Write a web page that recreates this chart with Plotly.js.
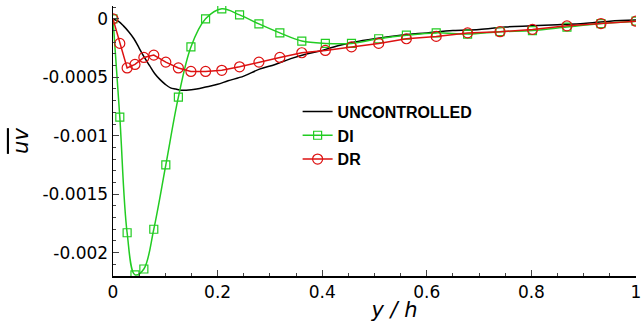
<!DOCTYPE html>
<html>
<head>
<meta charset="utf-8">
<script src="https://cdn.plot.ly/plotly-3.0.1.min.js"></script>
<style>html,body{margin:0;padding:0;background:#fff;}#chart{width:641px;height:322px;}</style>
</head>
<body>
<div id="chart"></div>
<script>
// Uncontrolled (dense line, no markers)
const uncX = [0, 0.01, 0.02, 0.03, 0.04, 0.05, 0.06, 0.07, 0.08, 0.09, 0.10, 0.11, 0.12, 0.13, 0.14, 0.16, 0.18, 0.20, 0.22, 0.25, 0.28, 0.31, 0.34, 0.37, 0.40, 0.43, 0.46, 0.50, 0.55, 0.60, 0.65, 0.70, 0.75, 0.80, 0.85, 0.90, 0.95, 1.0];
const uncV = [0, -0.00002, -0.00006, -0.00011, -0.00017, -0.00025, -0.00033, -0.00040, -0.00047, -0.00052, -0.00056, -0.00059, -0.00060, -0.00061, -0.00061, -0.00060, -0.00058, -0.00056, -0.00053, -0.00049, -0.00043, -0.00039, -0.00034, -0.00030, -0.00027, -0.00023, -0.00020, -0.00017, -0.00014, -0.00012, -0.00010, -0.00009, -0.00007, -0.00006, -0.00005, -0.00004, -0.00002, -0.00001];

// Station locations shared by DI and DR
const ptX = [0, 0.013, 0.027, 0.042, 0.059, 0.078, 0.101, 0.125, 0.149, 0.177, 0.208, 0.242, 0.279, 0.319, 0.361, 0.406, 0.456, 0.508, 0.561, 0.618, 0.678, 0.740, 0.802, 0.868, 0.933, 1.0];
const diV = [0, -0.00084, -0.00183, -0.00219, -0.00214, -0.00180, -0.00125, -0.00067, -0.00024, 0.0, 0.000086, 0.000034, -0.000043, -0.00012, -0.00019, -0.00021, -0.00021, -0.00017, -0.00014, -0.00012, -0.00013, -0.00011, -0.00010, -0.00007, -0.00004, -0.00002];
const drV = [0, -0.00021, -0.00042, -0.00039, -0.00033, -0.00031, -0.00037, -0.00042, -0.00045, -0.00045, -0.00044, -0.00041, -0.00037, -0.00033, -0.00029, -0.00027, -0.00024, -0.00021, -0.00017, -0.00015, -0.00012, -0.00011, -0.00009, -0.00006, -0.00004, -0.00002];

const yTickVals = [0, -0.0005, -0.001, -0.0015, -0.002];
const yTickText = ["0", "-0.0005", "-0.001", "-0.0015", "-0.002"];
const xTickVals = [0, 0.2, 0.4, 0.6, 0.8, 1];
const xTickText = ["0", "0.2", "0.4", "0.6", "0.8", "1"];

const traces = [
  {x: uncX, y: uncV, name: "UNCONTROLLED", mode: "lines", line: {color: "#000000", width: 1.5, shape: "spline"}},
  {x: ptX, y: diV, name: "DI", mode: "lines+markers", line: {color: "#22cc22", width: 1.5, shape: "spline"},
   marker: {symbol: "square-open", size: 8, color: "#22cc22", line: {width: 1.2}}},
  {x: ptX, y: drV, name: "DR", mode: "lines+markers", line: {color: "#dd1111", width: 1.5},
   marker: {symbol: "circle-open", size: 10, color: "#dd1111", line: {width: 1.2}}}
];

const tickFont = {family: "DejaVu Sans", size: 17, color: "#000"};
const layout = {
  width: 641, height: 322,
  margin: {l: 113, r: 5, t: 6, b: 46},
  paper_bgcolor: "#fff", plot_bgcolor: "#fff",
  showlegend: true,
  legend: {x: 0.353, y: 0.672, xanchor: "left", yanchor: "top", bgcolor: "rgba(0,0,0,0)",
           font: {family: "Liberation Sans", size: 16, color: "#000", weight: "bold"}, tracegroupgap: 0},
  xaxis: {range: [0, 1], tickvals: xTickVals, ticktext: xTickText, ticks: "inside", ticklen: 6, tickwidth: 1.2,
          minor: {dtick: 0.05, ticks: "inside", ticklen: 3, tickwidth: 1},
          ticklabeloverflow: "allow",
          showline: true, linecolor: "#000", linewidth: 1.5, showgrid: false, zeroline: false,
          tickfont: tickFont,
          title: {text: "&nbsp;&nbsp;&nbsp;&nbsp;&nbsp;&nbsp;<i>y / h</i>", font: {family: "DejaVu Sans", size: 21, color: "#000"}, standoff: 4}},
  yaxis: {range: [-0.0022, 0.00011], tickvals: yTickVals, ticktext: yTickText, ticks: "inside", ticklen: 6, tickwidth: 1.2,
          minor: {dtick: 0.0001, ticks: "inside", ticklen: 3, tickwidth: 1},
          showline: true, linecolor: "#000", linewidth: 1.5, showgrid: false, zeroline: false,
          tickfont: tickFont,
          title: {text: "<i><span style=\"text-decoration:overline\">uv</span></i>", font: {family: "DejaVu Sans", size: 21, color: "#000"}, standoff: 8}}
};

Plotly.newPlot("chart", traces, layout, {staticPlot: true, displayModeBar: false});
</script>
</body>
</html>
